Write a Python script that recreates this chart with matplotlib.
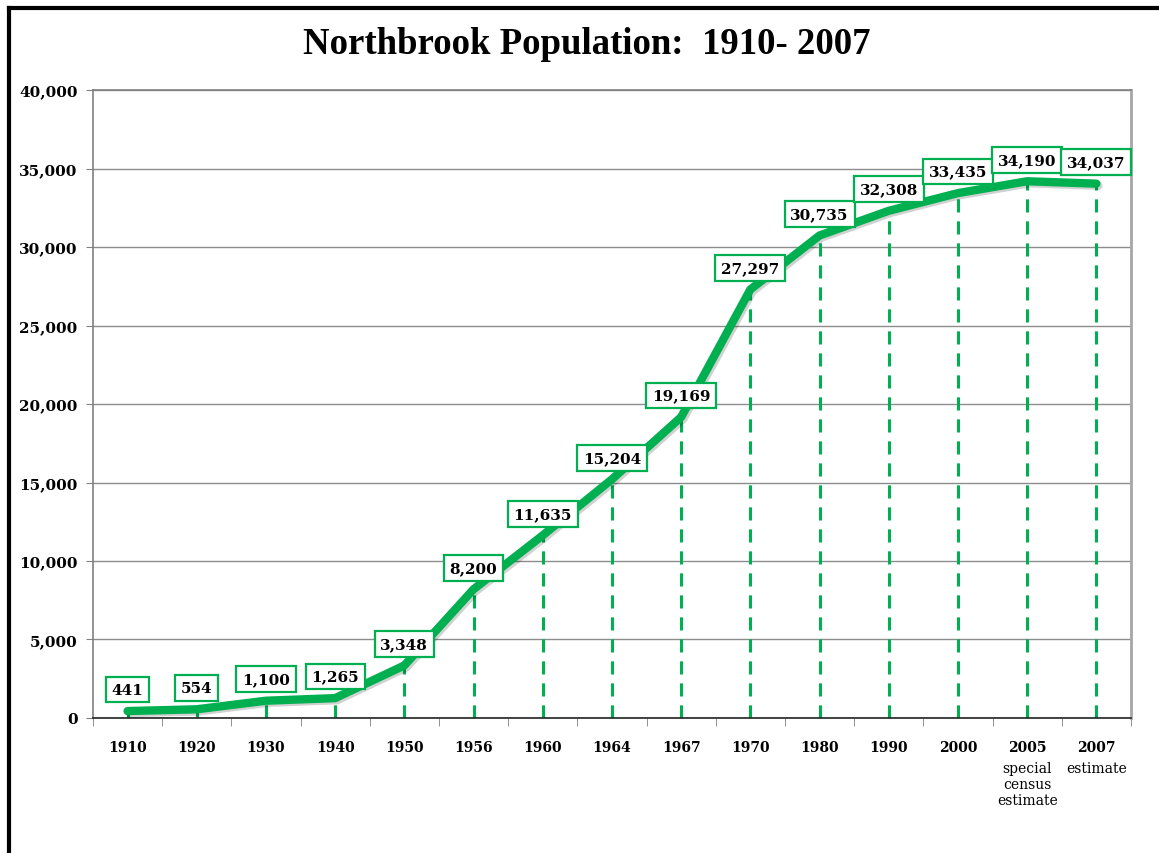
import matplotlib
matplotlib.use("Agg")
import matplotlib.pyplot as plt
import matplotlib.patheffects as pe
from matplotlib.lines import Line2D
from matplotlib.ticker import FuncFormatter, FixedLocator

# data
years = ["1910", "1920", "1930", "1940", "1950", "1956", "1960", "1964",
         "1967", "1970", "1980", "1990", "2000", "2005", "2007"]
population = [441, 554, 1100, 1265, 3348, 8200, 11635, 15204,
              19169, 27297, 30735, 32308, 33435, 34190, 34037]
notes = {"2005": "special\ncensus\nestimate", "2007": "estimate"}

green = "#00B050"

fig = plt.figure(figsize=(11.59, 8.54), dpi=100)
ax = fig.add_axes([0.0802, 0.1581, 0.8956, 0.7353])

x = list(range(len(years)))

# dashed drop lines
for xi, v in zip(x, population):
    ax.plot([xi, xi], [0, v], color=green, lw=2.2, ls=(0, (4.3, 2.9)), zorder=2)

# main line
ax.plot(x, population, color=green, lw=6, solid_capstyle="round", zorder=3,
        path_effects=[pe.SimpleLineShadow(offset=(1.5, -1.5), alpha=0.18), pe.Normal()])

# value boxes
for xi, v in zip(x, population):
    ax.annotate(f"{v:,}", (xi, v), xytext=(0, 15.5), textcoords="offset points",
                ha="center", va="center", fontsize=11, fontweight="bold",
                family="DejaVu Serif", zorder=5,
                bbox=dict(boxstyle="square,pad=0.38", fc="white", ec=green, lw=1.6))

ax.set_xlim(-0.5, len(years) - 0.5)
ax.set_ylim(0, 40000)
ax.set_yticks(range(0, 40001, 5000))
ax.yaxis.set_major_formatter(FuncFormatter(lambda v, p: f"{int(v):,}"))
ax.grid(axis="y", color="#8c8c8c", lw=1)
ax.set_axisbelow(True)

ax.set_xticks(x)
ax.set_xticklabels(years, fontsize=10, fontweight="bold", family="DejaVu Serif")
ax.tick_params(axis="x", which="major", length=0, pad=16)
ax.xaxis.set_minor_locator(FixedLocator([i + 0.5 for i in range(-1, len(years))]))
ax.tick_params(axis="x", which="minor", length=6, color="#808080", direction="out")
ax.tick_params(axis="y", length=5, color="#808080", pad=6)
for lab in ax.get_yticklabels():
    lab.set_fontsize(11)
    lab.set_fontweight("bold")
    lab.set_family("DejaVu Serif")

for s in ["left", "top"]:
    ax.spines[s].set_color("#808080")
    ax.spines[s].set_linewidth(1.2)
ax.spines["right"].set_color("#a6a6a6")
ax.spines["right"].set_linewidth(2)
ax.spines["bottom"].set_color("#222222")
ax.spines["bottom"].set_linewidth(1.2)

# extra notes under last two years
for i, yr in enumerate(years):
    if yr in notes:
        ax.annotate(notes[yr], (i, 0), xycoords=("data", "axes fraction"),
                    xytext=(0, -31), textcoords="offset points", ha="center", va="top",
                    fontsize=10, family="DejaVu Serif", linespacing=1.2)

fig.text(0.506, 0.948, "Northbrook Population:  1910- 2007", ha="center", va="center",
         fontsize=26.5, fontweight="bold", family="Liberation Serif")

# black frame on top and left edge
fig.add_artist(Line2D([0.0078, 1.0], [0.9895, 0.9895], transform=fig.transFigure,
                      color="black", lw=3))
fig.add_artist(Line2D([0.0078, 0.0078], [0.0, 0.9895], transform=fig.transFigure,
                      color="black", lw=3))

fig.savefig("out.png", dpi=100)
